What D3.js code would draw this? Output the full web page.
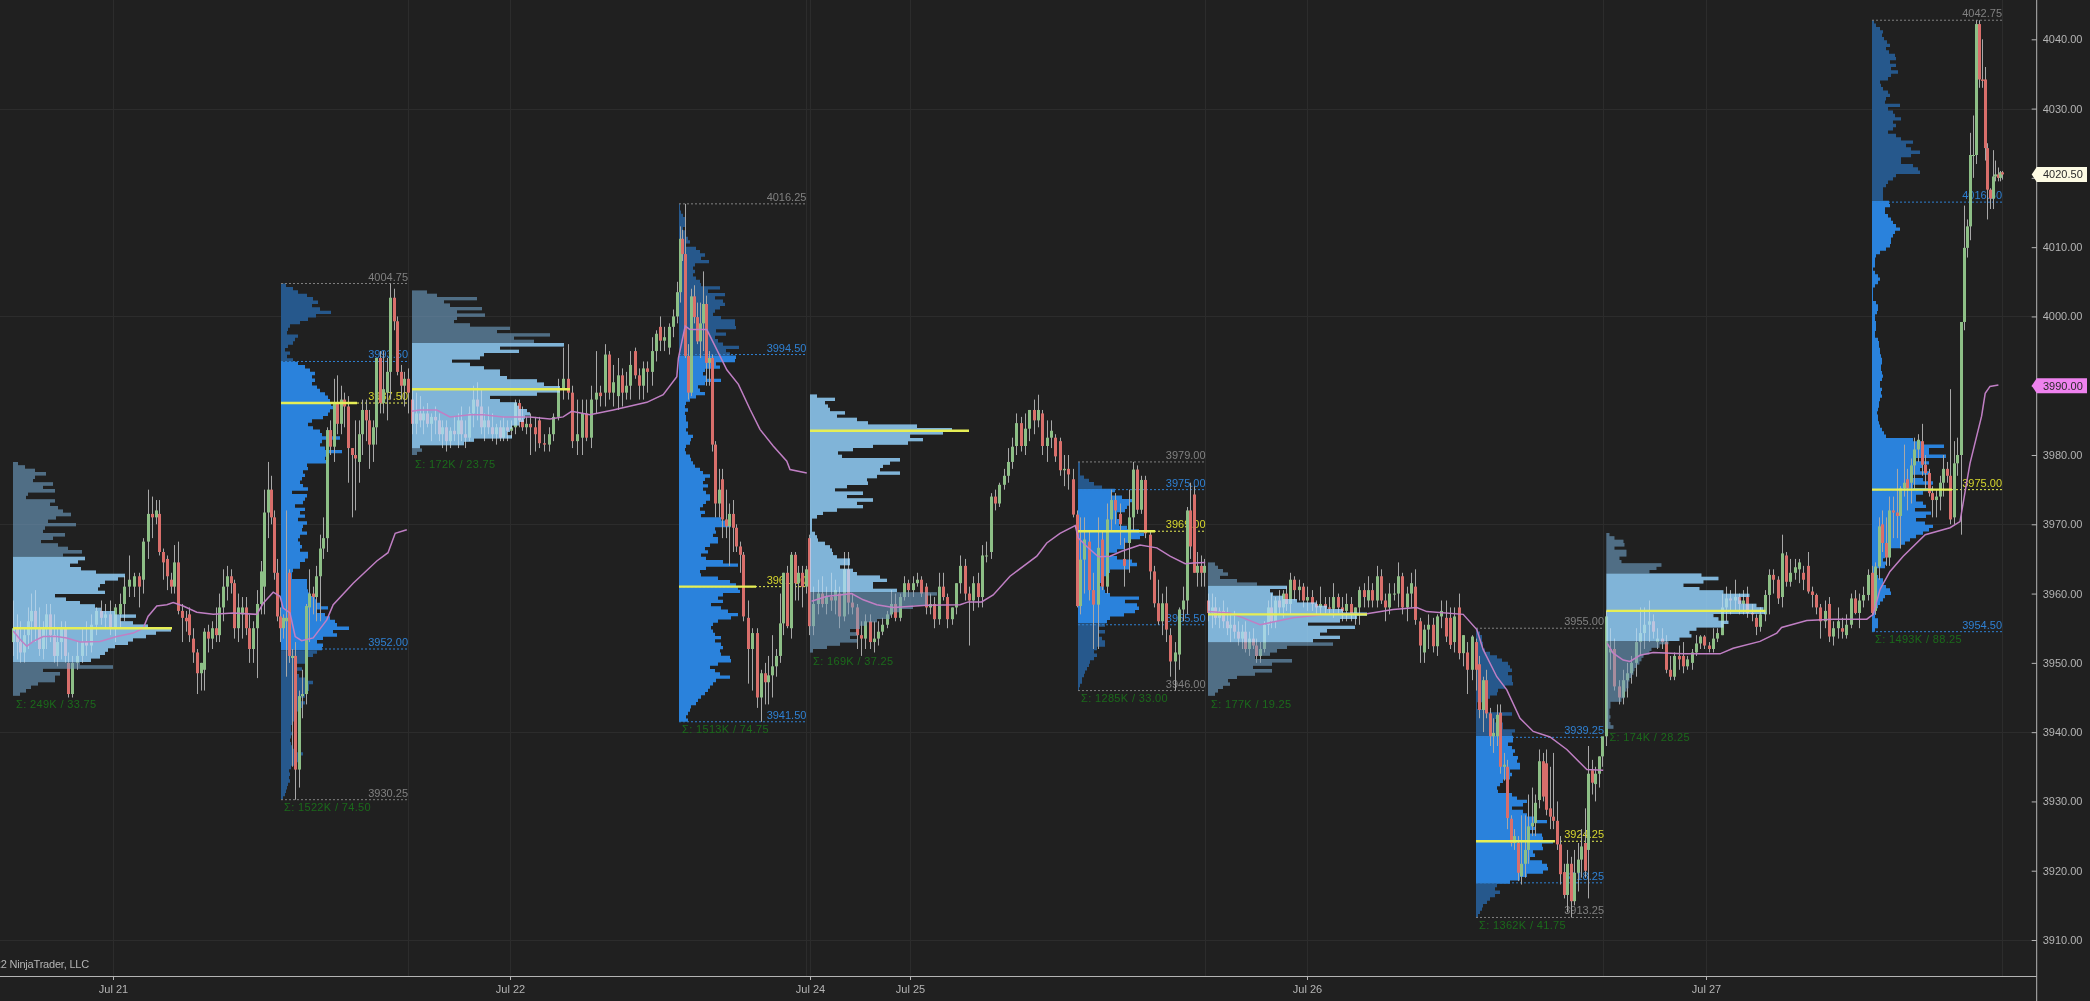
<!DOCTYPE html>
<html><head><meta charset="utf-8"><title>ES Market Profile</title>
<script src="https://cdn.jsdelivr.net/npm/d3@7/dist/d3.min.js"></script>
<style>html,body{margin:0;padding:0;background:#202020;overflow:hidden}svg{display:block;filter:blur(.45px)}
text{font-family:"Liberation Sans",Arial,sans-serif;font-size:11px}</style></head><body>
<svg id="c" width="2090" height="1001"></svg>
<script>
// ---- candles [open, high, low, close], one list per stretch of the chart ----
const legA=[[3953,3959,3951,3955],[3955,3957,3950.5,3953],[3953,3956,3950,3951.5],[3951.5,3955,3950,3954],[3954,3958,3952,3956],[3956,3960,3953,3957.5],[3957.5,3960.5,3953,3955],[3955,3958,3951,3952],[3952,3956,3950.5,3955],[3955,3958.5,3952,3957],[3957,3958.5,3953,3954],[3954,3957,3950,3951],[3951,3955,3949.5,3953],[3953,3956,3950.5,3955],[3955,3956,3950,3951],[3950,3951.5,3945,3945.5],[3945.5,3951,3945,3950],[3950,3953,3949,3951],[3951,3955,3950,3953],[3953,3956,3951,3952.5],[3952.5,3957,3951.5,3955.5],[3955.5,3958,3954,3957.5],[3957.5,3959,3955.5,3956.5],[3956.5,3958.5,3955,3957],[3957,3959,3954,3955],[3955,3958.5,3953,3958],[3957,3960,3955,3958.5],[3958.5,3962.5,3956,3961],[3961,3965.5,3959.5,3962],[3961,3963,3959.5,3962.5],[3962.5,3963,3958,3961],[3962,3968,3960,3967.5],[3967.5,3975,3965,3971.5],[3971.5,3974,3968,3971],[3971,3973.5,3970,3972],[3971.5,3973.5,3965.5,3966],[3966,3966.5,3962,3964.5],[3965,3965.5,3960.5,3962.5],[3962,3963,3960,3961],[3961,3967,3960,3964.5],[3964.5,3967.5,3957,3957.5],[3957.5,3958.5,3953,3956.5],[3956.5,3957.5,3954.5,3956],[3957,3958,3953,3954],[3953.5,3955,3950,3951.5],[3951.5,3952,3945.5,3948.5],[3948.5,3950,3946,3950],[3949,3955,3946,3954.5],[3954.5,3955.5,3951.5,3953.5],[3953.5,3956,3952,3955],[3955,3958,3953,3954],[3954,3960,3953,3958],[3958,3963.5,3956,3961],[3961,3964,3959,3962.5],[3962.5,3963.5,3960,3961.5],[3961.5,3962,3953.5,3955],[3955,3960,3953,3958],[3957,3959.5,3953.5,3958],[3958,3959.5,3954,3955],[3955,3957,3950,3952],[3952,3956,3950,3955],[3955,3960.5,3947.8,3958.5],[3958.5,3964.7,3957,3963.2],[3961,3975,3957,3971.7],[3971.7,3979,3968,3975],[3975,3977,3970,3971],[3971,3972,3962,3963],[3963,3965,3956,3956.7],[3956.7,3958,3953,3955],[3955,3957,3953.5,3956.5],[3956,3972,3948,3956.5],[3963,3963.5,3950,3951],[3950.7,3952,3935,3951],[3951,3953,3930.25,3934.6],[3934.6,3946,3932,3945.2],[3945.2,3949,3942,3945.5],[3945.5,3958.5,3944,3958.2],[3958,3963.5,3953,3960],[3960,3961,3957,3959.5],[3959.5,3964,3956,3962.5],[3962.5,3968.5,3956,3966.5],[3966.5,3971,3965,3968],[3968,3984,3966,3983.6],[3983.6,3985,3980,3981.2],[3981.2,3991,3979,3987.5],[3987.5,3991.5,3983,3984.5],[3984.5,3990,3983,3988],[3988,3989,3984,3987],[3987,3988.5,3976,3981],[3981,3981,3971,3980],[3980,3985,3972,3979.5],[3979,3985,3976,3983],[3983,3988,3980,3986.5],[3986.5,3988,3982,3985],[3985,3986.5,3978,3981.5],[3981.5,3985,3979,3984],[3984,3994,3981.5,3994],[3994,3995,3986,3987.5],[3987.5,3995,3986,3989.5],[3989,3994,3985,3992],[3992,4004.75,3988,4002.7],[4002.7,4004,3998,3999.3],[3999.3,4000,3991.5,3992],[3992,3993,3988,3990],[3990,3992,3987,3991],[3991,3992.5,3986,3989]];
const legB=[[3988,3989.5,3983,3984.5],[3984.5,3989,3983,3986],[3986,3988.5,3984,3985],[3985,3987,3983,3986],[3986,3987.5,3984,3984.5],[3984.5,3986,3982,3985.5],[3985.5,3987,3983,3985],[3985,3986,3982,3983],[3983,3985,3981,3984],[3984,3985,3980.5,3982],[3982,3984,3981,3983.5],[3983.5,3985.5,3982,3983],[3983,3986,3981,3985],[3985,3987,3982,3983],[3983,3985,3981,3982.5],[3982.5,3987,3982,3986],[3986,3990,3984,3988],[3988,3990.5,3985,3987],[3987,3989.5,3983,3984],[3984,3986,3982,3985],[3985,3987,3983,3984],[3984,3986,3982,3983],[3983,3984.5,3981.5,3984],[3984,3985,3982,3982.5],[3982.5,3985.5,3982,3984],[3984,3985,3982,3983.5],[3983.5,3985,3982.5,3984],[3984,3988,3983,3987.5],[3987.5,3988,3984,3985],[3985,3987,3983.5,3984],[3984,3985.5,3983,3984.5],[3984.5,3986,3980,3984],[3984,3985.5,3980.5,3983],[3985,3985.5,3981,3981.7],[3981.7,3983,3980.5,3981.5],[3981.5,3984,3980.5,3983],[3983,3986,3982,3985.5],[3985.5,3991,3985,3989.5],[3989.5,3995.5,3988,3991],[3991,3996,3988,3989],[3989,3990,3981,3982],[3982,3988,3980,3983],[3982.5,3988,3980,3986],[3986,3988,3982,3982.5],[3982.5,3990,3981,3988],[3988,3995,3986,3989],[3989,3990,3987,3988.5],[3989,3996,3987,3994.5],[3994.5,3995,3988,3989],[3989,3993,3987,3990.5],[3988.5,3994,3986.5,3991.5],[3991.5,3992.5,3987,3989],[3989,3992,3988,3990],[3990,3995,3988,3993],[3995,3995.5,3991,3991.5],[3991.5,3992.5,3988,3990],[3990,3993.5,3988,3992.5],[3992.5,3993.5,3989,3992],[3992,3997,3990,3995],[3995,3998,3993.5,3997.5],[3998.5,4000,3995,3996.5],[3996.5,3998.5,3995,3997],[3995.5,3999,3994.5,3998.5],[3998.5,4001,3997,4000],[4000,4005,3999,4003.5],[4003.5,4013,4002,4011.2],[4011.2,4012.5,4008,4009],[4009,4016.25,3994,3994.3],[3994.3,3996,3988,3989],[3989,4004,3988.5,4002.9],[4002.9,4004.5,3999,3999.9],[3999.9,4002,3996,3996.4],[3996.4,4002,3994,3999],[3999,4006.5,3995,4001.8],[4001.8,4003,3990,3993.3],[3993.3,3995,3990,3994],[3994,3994.5,3980.5,3981.5],[3981.5,3982,3971,3973],[3973,3978,3971,3975],[3976.5,3978,3968,3970.7],[3970.7,3975,3968,3969.7],[3969.7,3973,3964,3971.5],[3971.5,3973.5,3966,3969.5],[3969.5,3970,3966,3966.8],[3966.8,3967.5,3963,3965.6],[3965.6,3966,3956,3956.7],[3956.5,3959,3947,3952],[3952,3955,3946,3954.3],[3954.3,3955,3943.5,3945],[3945,3949,3941.5,3948.5],[3948.5,3950,3944,3947.2],[3947.2,3951,3944,3948.2],[3948.2,3954,3945,3949.5],[3949.5,3952,3948,3951],[3951,3960,3950,3955.7],[3955.7,3963,3954,3963],[3963,3964,3955,3955.3],[3955,3966,3953.5,3965.6],[3965.6,3966,3959,3961.5],[3961.5,3964,3959,3963],[3963,3964,3958,3961],[3961,3964,3960,3963.5]];
const legC=[[3968,3968.5,3954,3955.3],[3955.3,3961,3954,3958.5],[3958.5,3962,3957,3960],[3960,3962.5,3958,3958.5],[3958.5,3961,3957,3959.5],[3959.5,3963,3957.5,3959],[3959,3962,3957,3960.5],[3960,3961,3955,3956.7],[3956.7,3966,3956,3963.5],[3963.5,3966,3957,3958.7],[3958.7,3960,3957,3958],[3958,3958.5,3952,3954],[3954,3956,3951,3953.5],[3953.5,3957,3952,3956],[3956,3957,3952,3953],[3953,3956,3951.5,3953.5],[3953.5,3956,3952.5,3954.5],[3954.5,3956.5,3954,3955.5],[3955.5,3957.5,3955,3957],[3957,3960.5,3956.5,3958.5],[3958.5,3960,3956,3956.5],[3956.5,3960,3956,3959.5],[3959.5,3962.5,3959,3961.5],[3961.5,3962,3959.5,3960.5],[3960.5,3962.5,3959.5,3961.5],[3961.5,3963,3961,3962],[3962,3962.5,3959.5,3960],[3961,3961.5,3957,3958],[3958,3960,3957,3958.5],[3958.5,3959.5,3955,3956.3],[3956.3,3963,3955.5,3961],[3961,3963,3959,3959.5],[3959.5,3960,3955,3956.3],[3956.3,3958,3955.5,3958],[3958,3961.5,3957,3961.5],[3961.5,3965.5,3960,3964],[3964,3965,3959,3960],[3960,3961,3952.5,3959],[3959,3962.5,3957.5,3961.5],[3961.5,3963,3958,3959.5],[3959.5,3967,3958,3965.5],[3965.5,3967.5,3964.5,3965.5],[3966,3974.5,3965,3974],[3974,3975,3972,3973],[3973,3976,3972.5,3975.7],[3975.7,3978,3975,3977],[3977,3981,3976,3979],[3979,3982.5,3978,3981.2],[3981.3,3986,3980,3984.6],[3984.6,3985.5,3980.5,3981.3],[3981.3,3986,3980,3983.8],[3983.8,3986.5,3982,3986.5],[3986.5,3988,3983,3985],[3985,3988.7,3984,3986.5],[3986,3986.5,3980,3981.3],[3981.3,3985,3979,3982.5],[3982.5,3985,3981,3983.5],[3982.5,3983,3979,3979.8],[3982,3982.5,3977,3977.8],[3977.8,3980,3975.5,3978],[3978,3980,3975,3977.2],[3976.5,3978,3971,3971.4],[3971.4,3972,3958,3958.2]];
const legD=[[3958.2,3971,3957,3964.9],[3964.9,3971,3960,3967.8],[3967.5,3969,3959,3960.5],[3960.5,3963,3952,3958.4],[3958.4,3971,3952,3966.6],[3967.8,3969,3960.5,3961],[3961,3973,3960,3970.7],[3970.7,3975,3969,3973.5],[3973.5,3974.5,3970,3972],[3971.5,3973,3967,3970],[3965,3968,3961,3964],[3967.3,3975,3963,3971],[3971,3979,3969,3977.9],[3977.9,3978.5,3971.5,3972.1],[3972.1,3977,3971.5,3976.4],[3976.4,3977,3968,3968.7],[3968.5,3969,3962,3963.2],[3963.2,3964,3958,3958.6],[3958.6,3962,3955.5,3956],[3956,3960,3954,3958.6],[3958.6,3961,3953,3954.8],[3954,3955,3948,3950.2],[3950.2,3953,3946,3951.5],[3951.2,3958,3949,3957.7],[3957.7,3961,3956,3959],[3959,3972.5,3957,3972],[3972,3976,3965,3966.8],[3974.3,3975.5,3963,3963],[3963,3966,3961,3964],[3964,3965.5,3961,3963],[3963,3965,3961,3964]];
const legE=[[3959,3960,3956,3957.2],[3957.2,3960,3955,3958],[3958,3959.5,3955.5,3956.5],[3956.5,3958,3955,3957.5],[3957.5,3959,3955,3956],[3956,3958,3954,3955],[3955,3957,3953,3955.5],[3955.5,3957.5,3953.5,3954.5],[3954.5,3956,3952.5,3953.5],[3953.5,3955.5,3952,3954.5],[3954.5,3956,3951.5,3952],[3952,3954.5,3951,3953.5],[3953.5,3955,3952,3952.5],[3952.5,3953.5,3950,3951],[3951,3953,3950,3952],[3952,3956,3951.5,3955.5],[3955.5,3959,3954,3958],[3958,3960,3955,3956],[3956,3959.5,3955,3959],[3959,3960.5,3957,3958],[3958,3960.5,3956.5,3960],[3960,3961,3957.5,3958.5],[3958.5,3963,3957,3962],[3962,3962.5,3959,3960.5],[3960.5,3962,3959,3961],[3961,3961.5,3958,3959],[3959,3961,3957.5,3959.5],[3959.5,3960.5,3957.5,3958.5],[3958.5,3959,3957,3958],[3958,3961,3957,3958.5],[3958.5,3959.5,3957,3958],[3958,3959.5,3957,3957.8],[3957.8,3961.5,3956.5,3959.5],[3959.5,3960,3957,3958],[3958,3959.5,3956,3957.5],[3957.5,3960,3956,3958.5],[3958.5,3959.5,3956,3957],[3957,3958,3955.5,3958],[3958,3961,3955.5,3960.5],[3960.5,3961.5,3958,3959.5],[3959,3962.5,3958,3960.5],[3960.5,3961.5,3958,3959],[3959,3964,3958,3962.5],[3962.5,3963.5,3958.5,3959],[3959,3960,3956,3958],[3958,3961.5,3957,3960],[3960,3961.5,3959,3960],[3960,3964.5,3958,3962.5],[3962.5,3963,3957,3958],[3958,3961,3956,3960],[3960,3963,3958,3961.5],[3961,3963.5,3955.5,3956.2],[3956,3956.5,3950,3952.5],[3951.5,3955.5,3950,3954.8],[3954.8,3957,3952,3955.5],[3955.5,3956.5,3951.5,3952.4],[3952.4,3957,3951,3956.7],[3956.7,3959,3955,3957.5],[3956.5,3959,3953,3953.8],[3956.5,3958,3952,3952.6],[3953,3958,3951.5,3956.7],[3958,3960,3950.5,3951.4],[3951.4,3954,3949.5,3954],[3951.5,3953,3945.5,3949],[3949,3954,3947.5,3953.8],[3953,3953.5,3946,3949]];
const legF=[[3949.8,3951,3942,3943.2],[3943.2,3948,3940,3947.5],[3947.5,3949,3942,3942.7],[3942.7,3943.5,3938,3939.4],[3939.4,3942,3937,3939.9],[3939.4,3944,3938,3942.5],[3942.8,3944,3934,3935],[3935,3937,3933,3935.3],[3935,3936,3926,3927.6],[3927.5,3928,3923.5,3924],[3924,3926,3923,3925],[3924,3925,3918.5,3919.7],[3919.2,3928,3918,3921],[3921,3928,3919,3923],[3923,3931,3921,3926.4],[3926.4,3932,3925,3926.9],[3926.9,3931,3925,3929.8],[3930.2,3937.5,3929,3935.8],[3935.8,3937,3930,3930.7],[3935.5,3937.5,3928,3928.8],[3929,3935,3926,3927.8],[3927.8,3937,3926,3927.2],[3927.2,3930,3923,3923.8],[3923.8,3925,3918,3919.5],[3919.8,3921,3916,3916.5],[3916.5,3923,3914,3921],[3921,3922,3913.25,3915.6],[3915.6,3923,3915,3919.7],[3919.7,3924,3917,3921.6],[3921.6,3926,3919,3923.5],[3924,3929,3919,3920],[3923,3938,3916,3934],[3934.5,3936,3931,3932.7],[3932.5,3935,3930,3934],[3934,3936.5,3932,3936.5],[3936.5,3939,3935,3939.4],[3939.4,3957.5,3938,3956.7]];
const legG=[[3951.5,3955,3949,3952],[3952,3953.5,3946,3946.6],[3946.6,3947.5,3944,3945],[3945,3949,3944,3947.5],[3947.5,3950,3945,3948.5],[3948.5,3951,3947,3950],[3950,3955,3948,3953],[3953,3958,3951,3954.3],[3954.3,3958,3952,3955.5],[3955.5,3959,3953,3956],[3956,3957,3953.5,3954.5],[3953,3955,3952,3953.5],[3953.5,3955,3952,3953],[3953,3954,3948.5,3949],[3949,3951,3947.5,3948],[3948,3951.5,3947.5,3951],[3951,3952.5,3949,3950.5],[3951,3953,3948.5,3949.5],[3949.5,3951,3949,3950.5],[3950,3952,3949,3951.5],[3951.5,3954,3951,3952.8],[3952.8,3954,3952,3953.8],[3953.8,3954,3952,3952.5],[3952.5,3953,3951.5,3952],[3952,3955,3951.5,3953.5],[3953.5,3955,3953,3954.3],[3954,3960,3954,3958],[3958,3961,3956,3959.3],[3959.3,3960.5,3957,3959],[3959,3962,3957.5,3959.5],[3959.5,3960,3957,3958.5],[3958.5,3960.5,3957,3959],[3959.5,3961,3956.5,3957.2],[3957.2,3958.5,3956,3957],[3956.5,3957,3954,3955.2],[3955.2,3958,3954.5,3957],[3957,3960.5,3956,3959.8],[3959.8,3963.5,3957,3962.7],[3962.7,3963.5,3960,3962],[3962,3962.5,3958.5,3959.3],[3959.5,3968.5,3958,3965.8],[3965.5,3966,3961,3961.7],[3961.7,3965,3961,3963],[3963,3965,3962,3963.8],[3963.5,3965,3961.5,3964.5],[3963,3964,3960.5,3962],[3964,3966,3960,3960.3],[3960.3,3961,3958,3959.8],[3959.8,3960,3957,3958],[3958,3958.5,3953.5,3956],[3956,3959,3955,3957.5],[3958.5,3959.5,3953,3953.8],[3953.8,3956,3952.5,3955],[3955,3958,3953.5,3956],[3955,3956.5,3953.5,3954.5],[3954,3957,3953.5,3955.5],[3955.5,3960,3955,3959.3],[3959.3,3960.5,3957,3957.2],[3957.2,3960,3955,3959],[3959,3961,3958,3959.8],[3959.8,3963.5,3959,3962.7],[3963,3964,3957,3957.2]];
const legH=[[3957.5,3964.5,3957,3963.9],[3963.9,3971,3962,3969.7],[3970,3972,3966,3967.3],[3967.3,3971,3964,3965.2],[3965.2,3974,3964,3972],[3972,3974,3968,3971.7],[3971.7,3978,3968,3971.2],[3971.2,3975.5,3966.5,3975.2],[3975.2,3981.5,3974,3976],[3976.5,3978,3972,3975.2],[3976,3979.5,3973,3978.5],[3978.5,3982.5,3975,3980.8],[3980.8,3983,3979,3982.2],[3982,3984.5,3977,3978.6],[3978.6,3980,3975,3977.4],[3977.4,3978,3974,3974.5],[3974.5,3975.5,3971,3973.5],[3973.5,3975,3971,3974],[3974,3977,3972,3976],[3976,3980,3974,3978],[3978,3979,3976,3977],[3977,3989.5,3970,3970.7],[3971,3982,3970,3978.8],[3978.8,3982.5,3977,3980],[3980,3999.2,3968.5,3999.2],[3999.2,4016,3998,4009.9],[4009.9,4014,4008.5,4013],[4013,4026.5,4011,4023.3],[4023.3,4029,4020,4023.3],[4023.3,4042.75,4022,4042.2],[4042.2,4042.75,4033,4034.2],[4034.2,4040,4033,4034],[4034.2,4036,4022.5,4024.3],[4024.3,4025,4014,4018.3],[4018.3,4018.5,4015.5,4017],[4017,4024,4015.5,4020.2],[4020.2,4022.5,4019.5,4020.5],[4020.5,4021.5,4019.5,4020],[4020,4021,4019.5,4020.8],[4020.8,4021,4019.75,4020.5]];
const legs=[legA,legB,legC,legD,legE,legF,legG,legH];
// [bar number within the stretch, time slot] pairs that tie each stretch to the time axis
const legAnchors=[
 [[0,3.25],[16,18],[32,37],[64,67],[73,73.75]],
 [[0,103],[31,132.5],[47,151.25],[64,169.25],[67,171.25],[76,178],[85,185.75],[88,189.25]],
 [[0,202.25]],
 [[0,270],[12,283.25],[25,296.75]],
 [[0,302],[22,322.5]],
 [[0,369.75]],
 [[0,402.5]],
 [[0,468.75],[24,490.25],[29,494],[35,498.3]]];
const legLastSlot=[102,201.5,269.25,301,369,401.5,468,500.5];

// ---- session VWAP [slot, price] ----
const vwapMon=[[3.3,3954.6],[5,3953.4],[6.7,3952.4],[8.3,3953.1],[10.8,3953.8],[14.2,3953.8],[16.7,3953.6],[20,3953],[25,3953.1],[29.2,3953.8],[33.3,3954.3],[35.8,3955],[37,3956.7],[39.2,3958.2],[41.7,3958.4],[43.3,3958.7],[45.8,3958.2],[49.2,3957.3],[53.3,3957],[58.3,3957.2],[64.2,3957],[65.8,3958.6],[68.3,3960.2],[70,3959.6],[70.8,3957.9],[72.5,3957.2],[73.8,3953.8],[75.4,3953.2],[78.3,3953.6],[81.7,3956.2],[83.3,3958.4],[88.3,3961.5],[94.2,3964.7],[97,3965.9],[98.8,3968.7],[101.7,3969.2]];
const vwapTue=[[102.9,3986.3],[105,3986.5],[109.2,3986.5],[112.5,3985.5],[117.5,3985.8],[120.8,3985.8],[125.8,3985.5],[132.5,3985.5],[137.5,3985.2],[140.8,3985.5],[142.9,3986.3],[147.5,3985.8],[153.3,3986.5],[161.7,3987.6],[165.8,3988.7],[169.2,3991.3],[169.6,3994],[171.3,3998.6],[172.5,3998.1],[176.7,3998.1],[179.2,3995.2],[181.7,3992.3],[184.6,3990.2],[187.5,3986.6],[190,3983.7],[193.3,3981.3],[196.7,3979.1],[197.5,3977.9],[201.7,3977.4]];
const vwapWed=[[202.9,3958.9],[206.7,3959.6],[210,3959.8],[212.9,3960],[215.8,3959.1],[219.2,3958.4],[223.3,3958],[231.7,3958.3],[240,3958.4],[242.1,3958.8],[245.4,3958.8],[248.3,3959.8],[252.5,3962.5],[259.2,3965.4],[261.7,3967.3],[265,3968.7],[268.8,3969.8],[269.6,3968],[271.7,3966.8],[274.6,3965.3],[277.5,3965.4],[280.4,3966.1],[285,3967],[289.2,3966.6],[292.5,3965.4],[296.3,3964.3],[298.3,3964.4],[301.3,3964.5]];
const vwapThu=[[302.1,3957.4],[307.5,3957.2],[310.8,3956.5],[315,3955.5],[319.2,3956],[323.3,3956.5],[331.7,3957],[341.7,3957.1],[348.3,3957.7],[354.2,3958],[356.7,3957.4],[365.8,3957],[369.2,3954.8],[370.8,3951.9],[374.2,3948],[376.7,3946.1],[380,3942],[383.3,3940.1],[387.5,3939.3],[391.7,3937.5],[396.7,3934.6],[400.8,3934.5]];
const vwapFri=[[401.8,3952.8],[403.3,3951.4],[405.8,3950.4],[407.5,3950.2],[410,3951.1],[413.3,3951.5],[420.8,3951.3],[430,3951.3],[433.3,3952.1],[440,3953.1],[444.2,3954.3],[445.4,3955.1],[451.7,3956.1],[458.3,3956.3],[466.7,3956.3],[468.3,3957],[470,3960.6],[472.5,3963.2],[475.8,3965.4],[481.3,3968.5],[487.5,3969.5],[490,3970.4],[491.3,3974.8],[492.5,3978.8],[495.4,3985.6],[496.3,3988.9],[497.5,3989.9],[499.6,3990.1]];
const vwapSessions=[vwapMon,vwapTue,vwapWed,vwapThu,vwapFri];

// ---- volume profiles: relative volume per half-point row, top row first ----
const profile1=[5,12,22,33,22,20,40,30,42,15,13,42,37,45,50,58,43,35,63,32,30,52,40,28,45,55,69,50,72,65,57,68,83,112,105,92,87,85,92,42,53,67,82,88,102,123,107,120,135,158,143,133,120,115,102,95,92,87,78,67,100,30,47,42,42,25,18,13,7];
const profile2=[5,12,17,26,32,37,31,39,50,35,27,19,9,7,6,17,14,12,7,4,9,6,12,17,24,29,34,31,34,31,36,39,44,47,49,50,52,49,47,42,31,27,32,39,41,59,41,39,44,61,47,44,47,26,27,22,24,21,19,22,27,11,26,24,22,14,24,19,24,17,26,22,21,26,19,17,19,21,19,27,27,24,19,19,12,11,11,26,26,26,27,29,34,36,39,47,36,44,49,54,56,68,52,56,42,36,42,41,36,32,27,27,14,21,13,18,25,32,28,28,24,24,20,24,21,19,16,14,13,11,10,10,11,10,9,10,11,14,22,20,17,13,10,8,9,8,9,7,6,5,4,2];
const profile3=[15,25,65,32,38,70,45,73,45,42,58,98,85,138,102,122,152,88,107,72,68,40,58,72,88,88,95,125,132,148,148,125,78,88,105,107,115,118,113,112,107,100,98,95,100,62,52,8,10,5];
const profile4=[1,1,2,4,6,6,6,4,6,7,9,11,7,17,21,26,22,30,16,14,16,14,17,21,22,41,29,46,36,44,46,41,36,34,42,56,56,57,37,47,36,39,44,60,47,51,57,56,37,41,26,24,27,42,26,19,21,26,17,11,7,6,9,6,7,7,9,9,7,9,14,12,11,7,6,7,11,12,14,16,21,24,31,26,24,29,24,27,31,31,27,24,21,26,22,42,51,52,36,37,34,39,39,31,26,29,22,27,44,59,27,21,22,39,51,57,59,61,44,39,44,32,42,49,59,52,39,34,32,34,36,42,36,42,44,41,42,51,52,39,31,36,41,51,37,34,31,29,26,22,19,17,12,11,9,7,9];
const profile5=[7,25,15,18,20,35,27,47,58,107,142,133,100,113,98,63,43,28,32,90,80,73,70,90,67,57,58,37,25,53,37,63,47,53,27,13,7,2,2,2,2,5,7,8,15,20,22,23,27,40,40,30,43,47,70,77,63,63,87,127,117,117,117,103,90,82,80,67,57,50,40,47,40,47,30,17,3];
const profile6=[2,2,2,2,6,11,16,24,37,34,44,54,51,49,47,39,39,44,41,49,61,66,62,51,47,46,39,31,39,54,59,51,32,29,26,24,22,26,27,32,61,47,59,61,57,46,32,29,27,21,27,21,24,27,27,19,16,19,16,12,11,9,7,6,4,4,2,1];
const profile7=[7,10,15,20,12,29,49,79,62,65,75,89,109,119,135,159,149,132,100,147,119,112,132,105,125,79,69,62,47,84,64,45,64,47,29,20,22,15,10,7];
const profile8=[2,4,6,6,7,7,9,14,21,26,32,34,36,32,36,36,37,29,22,21,14,7,1,1,12,36,21,19,27,27,39,36,37,37,32,36,39,37,42,41,44,44,34,36,34,27,24,21,22,36,41,51,47,36,47,51,61,71,57,59,54,66,67,77,66,67,57,59,54,66,71,72,67,51,44,34,21,19,24,19,14,11,7,6,4,2];
const profile9=[3,8,17,18,8,20,20,13,15,55,50,43,95,112,97,77,93,117,143,133,135,150,157,159,107,112,122,117,90,83,85,73,62,53,45,43,37,35,33,30,28,27,25,23,22,22,20,18,18,15,4,4,3,3,4,3,4,7];
const profile10=[2,4,8,11,10,12,15,18,14,17,23,24,18,24,19,26,19,16,8,9,11,16,18,14,13,28,16,21,23,29,21,24,21,16,24,29,41,34,39,48,39,29,29,41,46,48,24,21,16,14,11,11,11,11,17,18,13,13,16,19,21,24,28,23,21,19,19,18,14,8,4,3,3,3,1,3,6,8,6,3,1,1,1,1,4,6,6,5,3,3,4,4,4,3,3,6,7,7,8,8,9,10,10,9,9,10,11,10,8,8,10,9,10,8,7,7,6,5,6,6,7,8,10,12,14,41,49,72,57,57,74,44,57,51,48,57,41,51,61,41,61,51,44,44,51,54,43,59,54,44,53,61,57,51,44,38,33,28,14,13,13,11,14,13,4,4,6,11,11,14,18,19,13,11,8,6,4,4,3,6,6,6,3];
const profiles=[profile1,profile2,profile3,profile4,profile5,profile6,profile7,profile8,profile9,profile10];
const profileSlots=[3.25,70.25,103,169.75,202.5,269.5,302,369,401.6,468];
const profileEndSlots=[null,102,null,201.6,null,301.4,null,401,null,500.5];
const profileHighs=[3979,4004.75,4003.75,4016.25,3988.75,3979,3964.5,3955,3968.75,4042.75];
const profileLows=[3945.25,3930.25,3980,3941.5,3951.5,3946,3945.25,3913.25,3940.5,3954.5];
const valueAreaHighs=[3965.5,3993.5,3996,3994.5,4000,3975,3961,3939.25,3962.75,4016.5];
const valueAreaLows=[3950,3952,3981,3930,3960,3955.5,3952.75,3918.25,3953,3950];
const pocPrices=[3955,3987.5,3989.5,3961,3983.5,3969,3957,3924.25,3957.5,3975];
const pocLabels=[null,"3987.50",null,"3961.50",null,"3969.00",null,"3924.25",null,"3975.00"];
const pocVolumes=[159,76,158,77,159,77,159,79,159,80];
const summaries=["Σ: 249K / 33.75","Σ: 1522K / 74.50","Σ: 172K / 23.75","Σ: 1513K / 74.75","Σ: 169K / 37.25","Σ: 1285K / 33.00","Σ: 177K / 19.25","Σ: 1362K / 41.75","Σ: 174K / 28.25","Σ: 1493K / 88.25"];

// ---- axes ----
const priceTicks=[3910,3920,3930,3940,3950,3960,3970,3980,3990,4000,4010,4020,4030,4040];
const gridPrices=[3910,3940,3970,4000,4030];
const dateLabels=["Jul 21","Jul 22","Jul 24","Jul 25","Jul 26","Jul 27"];
const dateSlots=[28.25,127.5,202.5,227.5,326.75,426.5];
const sessionSlots=[102,201.5,301.25,400.75,500.5];
const lastPrice=4020.5, vwapPrice=3990;

// ---- scales ----
const W=2090,H=1001,axisX=2036.7,axisY=976;
const x=d3.scaleLinear().domain([0,522.5]).range([0,W]);
const y=d3.scaleLinear().domain([3910,4040]).range([940,39.3]);
const volW=d3.scaleLinear().domain([0,100]).range([0,100]);
const svg=d3.select("#c");
const C={bg:"#202020",grid:"#2c2c2c",axis:"#b4b4b4",up:"#8dbf86",dn:"#d96f6b",wick:"#a8a8a8",
  light:"#6eaad3",lightDim:"#385974",lightFinal:"#7fb4d8",lightDimFinal:"#4f6d84",blue:"#2a82dc",blueDim:"#26588c",poc:"#e6ee55",
  vwap:"#c07fc4",grey:"#808080",levBlue:"#2f80d2",green:"#1b6a1b"};

svg.append("rect").attr("width",W).attr("height",H).attr("fill",C.bg);

// grid
const grid=svg.append("g").attr("stroke",C.grid).attr("stroke-width",1);
grid.selectAll("line.h").data(gridPrices).join("line").attr("x1",0).attr("x2",axisX)
  .attr("y1",d=>Math.round(y(d))+.5).attr("y2",d=>Math.round(y(d))+.5);
grid.selectAll("line.v").data(dateSlots.concat(sessionSlots)).join("line").attr("y1",0).attr("y2",axisY)
  .attr("x1",d=>Math.round(x(d))+.5).attr("x2",d=>Math.round(x(d))+.5);

const layerBlue=svg.append("g");
const layerLevels=svg.append("g");
const layerCandles=svg.append("g");
const layerLight=svg.append("g");
const layerVwap=svg.append("g");
const layerPoc=svg.append("g");

function drawProfile(i){
  const vals=profiles[i],hi=profileHighs[i],lo=profileLows[i],step=(hi-lo)/vals.length,x0=x(profileSlots[i]);
  const isBlue=i%2===1;
  const parent=isBlue?layerBlue:layerLight;
  const g=parent.append("g");
  if(!isBlue)g.style("mix-blend-mode","screen");
  const sections=[
    {from:hi,to:valueAreaHighs[i],fill:isBlue?C.blueDim:C.lightDim,final:C.lightDimFinal},
    {from:valueAreaHighs[i],to:valueAreaLows[i],fill:isBlue?C.blue:C.light,final:C.lightFinal},
    {from:valueAreaLows[i],to:lo,fill:isBlue?C.blueDim:C.lightDim,final:C.lightDimFinal}];
  const area=d3.area().curve(d3.curveStepBefore).x0(x0).x1(d=>x0+volW(d.v)).y(d=>y(d.p));
  sections.forEach(s=>{
    const pts=[];
    vals.forEach((v,k)=>{const top=hi-k*step,mid=top-step/2;
      if(mid<=s.from&&mid>s.to){pts.push({p:top,v:v});pts.push({p:top-step,v:v});}});
    if(pts.length){
      g.append("path").attr("d",area(pts)).attr("fill",s.fill);
      if(!isBlue)parent.append("path").attr("d",area(pts)).attr("fill",s.final).attr("opacity",.4);
    }
  });
  layerPoc.append("line").attr("x1",x0).attr("x2",x0+volW(pocVolumes[i]))
    .attr("y1",y(pocPrices[i])).attr("y2",y(pocPrices[i])).attr("stroke",C.poc).attr("stroke-width",2.4);
  layerLevels.append("text").attr("x",x0+3).attr("y",y(lo)+(isBlue?11.5:12.5)).attr("fill",C.green).attr("letter-spacing",".35px").text(summaries[i]);
  if(profileEndSlots[i]!==null){
    const x1=x(profileEndSlots[i]);
    const f=d3.format(".2f");
    const levels=[{p:hi,c:C.grey,t:f(hi)},{p:valueAreaHighs[i],c:C.levBlue,t:f(valueAreaHighs[i])},{p:pocPrices[i],c:C.poc,t:pocLabels[i]},{p:lo,c:(i===3||i===9)?C.levBlue:C.grey,t:f(lo)}];
    if(i!==3&&i!==9)levels.push({p:valueAreaLows[i],c:C.levBlue,t:f(valueAreaLows[i])});
    levels.forEach(l=>{
      layerLevels.append("line").attr("x1",x0).attr("x2",x1).attr("y1",y(l.p)).attr("y2",y(l.p))
        .attr("stroke",l.c).attr("stroke-width",1).attr("stroke-dasharray","2,2");
      layerLevels.append("text").attr("x",x1).attr("y",y(l.p)-3).attr("text-anchor","end").attr("fill",l.c==C.poc?"#d6d62e":l.c).text(l.t);
    });
  }
}
profiles.forEach((_,i)=>drawProfile(i));

// candles
legs.forEach((leg,li)=>{
  const anchors=legAnchors[li].concat([[leg.length-1,legLastSlot[li]]]);
  const sx=d3.scaleLinear().domain(anchors.map(a=>a[0])).range(anchors.map(a=>a[1]));
  const g=layerCandles.append("g");
  g.selectAll("line").data(leg).join("line")
    .attr("x1",(d,k)=>Math.round(x(sx(k)))+.5).attr("x2",(d,k)=>Math.round(x(sx(k)))+.5)
    .attr("y1",d=>y(d[1])).attr("y2",d=>y(d[2])).attr("stroke",C.wick).attr("stroke-width",1);
  g.selectAll("rect").data(leg).join("rect")
    .attr("x",(d,k)=>Math.round(x(sx(k)))-1).attr("width",3)
    .attr("y",d=>y(Math.max(d[0],d[3])))
    .attr("height",d=>Math.max(1,Math.abs(y(d[0])-y(d[3]))))
    .attr("fill",d=>d[3]>=d[0]?C.up:C.dn);
});

// vwap
const line=d3.line().x(d=>x(d[0])).y(d=>y(d[1]));
vwapSessions.forEach(s=>layerVwap.append("path").attr("d",line(s)).attr("fill","none")
  .attr("stroke",C.vwap).attr("stroke-width",1.5));

// axes
const yAxis=d3.axisRight(y).tickValues(priceTicks).tickSize(-5).tickPadding(6).tickFormat(d3.format(".2f"));
const gy=svg.append("g").attr("transform",`translate(${axisX},0)`).call(yAxis);
gy.select(".domain").remove();
gy.selectAll("line").attr("stroke",C.axis);
gy.selectAll("text").attr("fill",C.axis).style("font-size","11px");
svg.append("line").attr("x1",axisX).attr("x2",axisX).attr("y1",0).attr("y2",H).attr("stroke",C.axis);

const xAxis=d3.axisBottom(x).tickValues(dateSlots).tickSize(4).tickPadding(5).tickFormat((d,i)=>dateLabels[i]);
const gx=svg.append("g").attr("transform",`translate(0,${axisY})`).call(xAxis);
gx.select(".domain").remove();
gx.selectAll("line").attr("stroke",C.axis);
gx.selectAll("text").attr("fill",C.axis).style("font-size","11px");
svg.append("line").attr("x1",0).attr("x2",axisX).attr("y1",axisY+.5).attr("y2",axisY+.5).attr("stroke",C.axis);

svg.append("text").attr("x",89).attr("y",968).attr("text-anchor","end").attr("fill",C.axis).attr("letter-spacing","-.2px").text("©2022 NinjaTrader, LLC");

// price badges
[{p:lastPrice,f:"#fdfbe4"},{p:vwapPrice,f:"#ee82ee"}].forEach(b=>{
  const c=y(b.p);
  const path=d3.path();
  path.moveTo(axisX-5,c);path.lineTo(axisX,c-7.5);path.lineTo(2087,c-7.5);path.lineTo(2087,c+7.5);path.lineTo(axisX,c+7.5);path.closePath();
  svg.append("path").attr("d",path.toString()).attr("fill",b.f);
  svg.append("text").attr("x",2043).attr("y",c+4).attr("fill","#2a2a2a").text(d3.format(".2f")(b.p));
});
</script></body></html>
